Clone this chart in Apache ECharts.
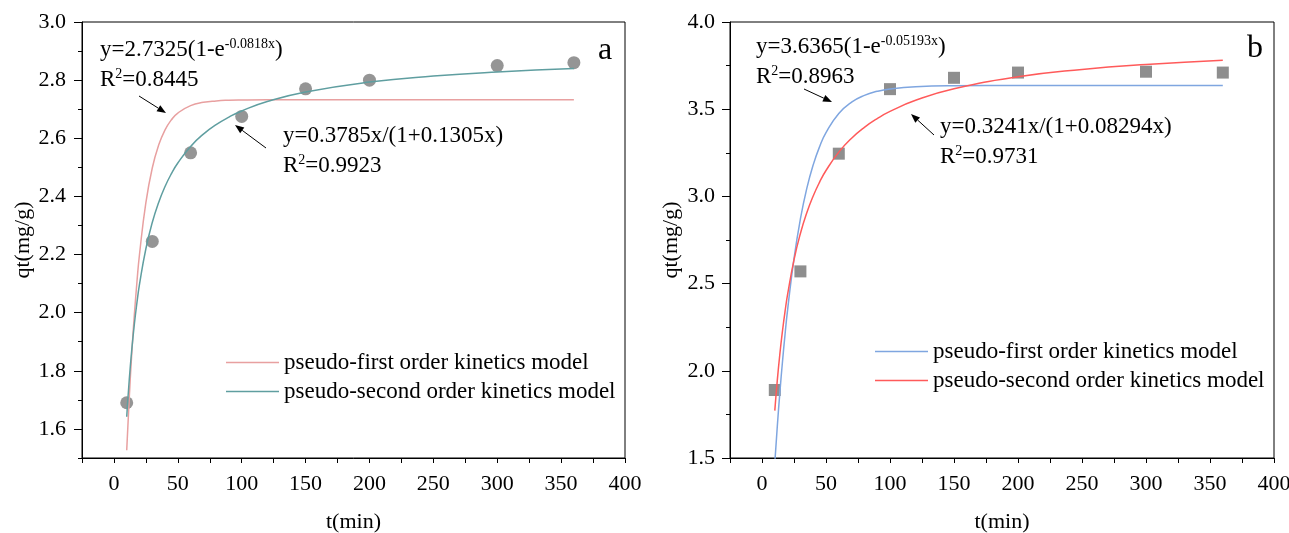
<!DOCTYPE html>
<html>
<head>
<meta charset="utf-8">
<script src="https://cdn.jsdelivr.net/npm/echarts@6/dist/echarts.min.js"></script>
<style>html,body{margin:0;padding:0;background:#fff}#c{width:1289px;height:533px}</style>
</head>
<body>
<div id="c"></div>
<script>
// measured points
const timeMin = [10, 30, 60, 100, 150, 200, 300, 360];
const qtA = [1.69, 2.245, 2.55, 2.675, 2.77, 2.80, 2.85, 2.86];
const qtB = [1.89, 2.57, 3.245, 3.615, 3.68, 3.71, 3.715, 3.71];
// fitted curve samples
const curveT = [10,12,14,16,18,20,25,30,35,40,45,50,60,70,80,90,100,120,150,200,250,300,360];
const pfoA = [1.5266,1.7086,1.8630,1.9942,2.1056,2.2002,2.3789,2.4978,2.5765,2.6289,2.6637,2.6868,2.7123,2.7236,2.7286,2.7308,2.7317,2.7324,2.7325,2.7325,2.7325,2.7325,2.7325];
const psoA = [1.6421,1.7701,1.8744,1.9611,2.0343,2.0970,2.2199,2.3103,2.3794,2.4341,2.4783,2.5150,2.5719,2.6142,2.6469,2.6728,2.6940,2.7263,2.7594,2.7934,2.8141,2.8281,2.8399];
const pfoB = [1.4728,1.6867,1.8790,2.0521,2.2084,2.3495,2.6438,2.8707,3.0459,3.1809,3.2852,3.3656,3.4754,3.5406,3.5794,3.6025,3.6163,3.6293,3.6350,3.6364,3.6365,3.6365,3.6365];
const psoB = [1.7716,1.9492,2.0995,2.2284,2.3402,2.4380,2.6363,2.7874,2.9064,3.0026,3.0819,3.1484,3.2538,3.3335,3.3958,3.4460,3.4872,3.5509,3.6169,3.6855,3.7279,3.7567,3.7810];
const xTickLabels = [0, 50, 100, 150, 200, 250, 300, 350, 400];
const yMajorA = [1.6, 1.8, 2.0, 2.2, 2.4, 2.6, 2.8, 3.0];
const yMajorB = [1.5, 2.0, 2.5, 3.0, 3.5, 4.0];
const nameFirst = 'pseudo-first order kinetics model';
const nameSecond = 'pseudo-second order kinetics model';

const FONT = 'Liberation Serif, Times New Roman, serif';
const pair = (xs, ys) => xs.map((x, i) => [x, ys[i]]);

function xAxisDef(grid) {
  return {
    type: 'value', gridIndex: grid, min: -25, max: 400, interval: 25,
    name: 't(min)', nameLocation: 'middle', nameGap: 53,
    nameTextStyle: { fontFamily: FONT, fontSize: 22, color: '#000' },
    axisLine: { show: true, onZero: false, lineStyle: { color: '#000', width: 1 } },
    axisTick: { show: true, length: 5, lineStyle: { color: '#000' } },
    axisLabel: { fontFamily: FONT, fontSize: 22, color: '#000', margin: 15,
      formatter: v => (xTickLabels.indexOf(Math.round(v)) >= 0 ? String(Math.round(v)) : '') },
    splitLine: { show: false }
  };
}
function yAxisMain(grid, min, max, interval, majors, gap, margin) {
  return {
    type: 'value', gridIndex: grid, min: min, max: max, interval: interval, position: 'left',
    name: 'qt(mg/g)', nameLocation: 'middle', nameGap: gap,
    nameTextStyle: { fontFamily: FONT, fontSize: 22, color: '#000' },
    axisLine: { show: true, onZero: false, lineStyle: { color: '#000', width: 1 } },
    axisTick: { show: true, length: 4, lineStyle: { color: '#000' } },
    axisLabel: { fontFamily: FONT, fontSize: 22, color: '#000', margin: margin,
      formatter: v => (majors.some(m => Math.abs(m - v) < 1e-6) ? v.toFixed(1) : '') },
    splitLine: { show: false }
  };
}
function yAxisMajorTicks(grid, min, max, majors) {
  return {
    type: 'value', gridIndex: grid, min: min, max: max, position: 'left',
    axisLine: { show: false, onZero: false },
    axisTick: { show: true, length: 8, customValues: majors, lineStyle: { color: '#000' } },
    axisLabel: { show: false },
    splitLine: { show: false }
  };
}

const chart = echarts.init(document.getElementById('c'));
chart.setOption({
  animation: false,
  backgroundColor: '#fff',
  grid: [
    { left: 82, right: 664, top: 22, bottom: 75, show: true, borderColor: '#000', borderWidth: 1, outerBoundsMode: 'none', containLabel: false },
    { left: 730, right: 15, top: 22, bottom: 75, show: true, borderColor: '#000', borderWidth: 1, outerBoundsMode: 'none', containLabel: false }
  ],
  xAxis: [xAxisDef(0), xAxisDef(1)],
  yAxis: [
    yAxisMain(0, 1.5, 3.0, 0.1, yMajorA, 46, 16),
    yAxisMain(1, 1.5, 4.0, 0.25, yMajorB, 48, 15),
    yAxisMajorTicks(0, 1.5, 3.0, yMajorA),
    yAxisMajorTicks(1, 1.5, 4.0, yMajorB)
  ],
  legend: [
    { left: 221, top: 346, orient: 'vertical', icon: 'rect', itemWidth: 53, itemHeight: 1.5, itemGap: 6,
      data: [nameFirst, nameSecond],
      textStyle: { fontFamily: FONT, fontSize: 23, color: '#000' }, selectedMode: false },
    { left: 870, top: 335, orient: 'vertical', icon: 'rect', itemWidth: 53, itemHeight: 1.5, itemGap: 6,
      data: [nameFirst + ' ', nameSecond + ' '],
      textStyle: { fontFamily: FONT, fontSize: 23, color: '#000' }, selectedMode: false }
  ],
  series: [
    { type: 'scatter', xAxisIndex: 0, yAxisIndex: 0, data: pair(timeMin, qtA), symbol: 'circle', symbolSize: 13,
      itemStyle: { color: '#7b7b7b' }, z: 1 },
    { type: 'line', name: nameFirst, xAxisIndex: 0, yAxisIndex: 0, data: pair(curveT, pfoA), smooth: true,
      symbol: 'none', lineStyle: { color: '#e8a0a0', width: 1.5 }, itemStyle: { color: '#e8a0a0' }, z: 3 },
    { type: 'line', name: nameSecond, xAxisIndex: 0, yAxisIndex: 0, data: pair(curveT, psoA), smooth: true,
      symbol: 'none', lineStyle: { color: '#5f9ea0', width: 1.5 }, itemStyle: { color: '#5f9ea0' }, z: 3 },
    { type: 'scatter', xAxisIndex: 1, yAxisIndex: 1, data: pair(timeMin, qtB), symbol: 'rect', symbolSize: 12,
      itemStyle: { color: '#727272' }, z: 1 },
    { type: 'line', name: nameFirst + ' ', xAxisIndex: 1, yAxisIndex: 1, data: pair(curveT, pfoB), smooth: true,
      symbol: 'none', lineStyle: { color: '#7fa6e0', width: 1.5 }, itemStyle: { color: '#7fa6e0' }, z: 3 },
    { type: 'line', name: nameSecond + ' ', xAxisIndex: 1, yAxisIndex: 1, data: pair(curveT, psoB), smooth: true,
      symbol: 'none', lineStyle: { color: '#ff5a5a', width: 1.5 }, itemStyle: { color: '#ff5a5a' }, z: 3 }
  ]
});

const rich = {
  b: { fontFamily: FONT, fontSize: 23, fill: '#000', lineHeight: 26 },
  s: { fontFamily: FONT, fontSize: 14, fill: '#000', verticalAlign: 'top', lineHeight: 26, padding: [0, 0, 8, 0] }
};
function label(x, y, txt) {
  return { type: 'text', x: x, y: y, z: 10,
    style: { text: txt, rich: rich, fontFamily: FONT, fontSize: 23, fill: '#000', verticalAlign: 'middle', align: 'left' } };
}
function arrow(x1, y1, x2, y2) {
  const a = Math.atan2(y2 - y1, x2 - x1), L = 9, W = 3.5;
  const bx = x2 - L * Math.cos(a), by = y2 - L * Math.sin(a);
  const nx = -Math.sin(a), ny = Math.cos(a);
  return [
    { type: 'line', z: 10, shape: { x1: x1, y1: y1, x2: bx, y2: by }, style: { stroke: '#000', lineWidth: 1 } },
    { type: 'polygon', z: 10, shape: { points: [[x2, y2], [bx + W * nx, by + W * ny], [bx - W * nx, by - W * ny]] }, style: { fill: '#000' } }
  ];
}
const g = [
  label(100, 50, '{b|y=2.7325(1-e}{s|-0.0818x}{b|)}'),
  label(100, 80, '{b|R}{s|2}{b|=0.8445}'),
  label(283, 136, '{b|y=0.3785x/(1+0.1305x)}'),
  label(283, 166, '{b|R}{s|2}{b|=0.9923}'),
  label(756, 47, '{b|y=3.6365(1-e}{s|-0.05193x}{b|)}'),
  label(756, 77, '{b|R}{s|2}{b|=0.8963}'),
  label(940, 127, '{b|y=0.3241x/(1+0.08294x)}'),
  label(940, 157, '{b|R}{s|2}{b|=0.9731}'),
  { type: 'text', x: 598, y: 51, z: 10, style: { text: 'a', fontFamily: FONT, fontSize: 32, fill: '#000', verticalAlign: 'middle' } },
  { type: 'text', x: 1247, y: 49, z: 10, style: { text: 'b', fontFamily: FONT, fontSize: 32, fill: '#000', verticalAlign: 'middle' } }
].concat(arrow(139, 96, 166, 113), arrow(266, 148, 235, 125), arrow(804, 89, 832, 102), arrow(934, 135, 911, 114));
chart.setOption({ graphic: g });
</script>
</body>
</html>
